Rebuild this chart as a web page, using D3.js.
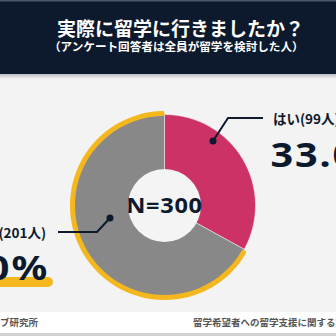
<!DOCTYPE html>
<html><head><meta charset="utf-8">
<script src="https://cdn.jsdelivr.net/npm/d3@7"></script>
<style>html,body{margin:0;padding:0;background:#f3f3f3;overflow:hidden}svg{display:block}</style>
</head><body>
<script>
const title = "実際に留学に行きましたか？";
const subtitle = "（アンケート回答者は全員が留学を検討した人）";
const categories = ["はい", "いいえ"];
const counts = [99, 201];
const percents = ["33.0%", "67.0%"];
const totalLabel = "N=300";
const footerLeft = "留学ラブ研究所";
const footerRight = "留学希望者への留学支援に関する調査";
const colors = ["#cd3266", "#888888"];

const W = 336, H = 336;
const font = "'Noto Sans CJK JP','Noto Sans',sans-serif";
const numFont = "'Noto Sans','Noto Sans CJK JP',sans-serif";
const svg = d3.select("body").append("svg").attr("width", W).attr("height", H);
const defs = svg.append("defs");
const g1 = defs.append("linearGradient").attr("id","sh").attr("x1",0).attr("y1",0).attr("x2",0).attr("y2",1);
g1.append("stop").attr("offset","0").attr("stop-color","#b9bec5");
g1.append("stop").attr("offset","1").attr("stop-color","#f3f3f3");

svg.append("rect").attr("width",W).attr("height",H).attr("fill","#f3f3f3");
// header
svg.append("rect").attr("x",0).attr("y",0).attr("width",W).attr("height",74).attr("fill","#0d1a2d");
svg.append("rect").attr("x",0).attr("y",0).attr("width",W).attr("height",1.5).attr("fill","#4a5668");
svg.append("rect").attr("x",0).attr("y",74).attr("width",W).attr("height",5).attr("fill","url(#sh)");
svg.append("text").attr("x",57).attr("y",35.5).attr("fill","#fff").attr("font-family",font)
  .attr("font-weight",700).attr("font-size",19).text(title);
svg.append("text").attr("x",49).attr("y",51).attr("fill","#fff").attr("font-family",font)
  .attr("font-weight",700).attr("font-size",11.6).text(subtitle);

// footer
svg.append("rect").attr("x",0).attr("y",312).attr("width",W).attr("height",21).attr("fill","#ffffff");
svg.append("rect").attr("x",0).attr("y",333).attr("width",W).attr("height",3).attr("fill","#d2d2d2");
svg.append("text").attr("x",38).attr("y",325.5).attr("text-anchor","end").attr("fill","#555")
  .attr("font-family",font).attr("font-weight",700).attr("font-size",9.5).text(footerLeft);
svg.append("text").attr("x",193).attr("y",325.5).attr("fill","#555")
  .attr("font-family",font).attr("font-weight",700).attr("font-size",9.5).text(footerRight);

// donut
const cx = 164.5, cy = 205.5, rOut = 91, rIn = 36.5;
const pie = d3.pie().sort(null).value(d => d)(counts);
const arc = d3.arc().innerRadius(0).outerRadius(rOut);
const chart = svg.append("g").attr("transform",`translate(${cx},${cy})`);
chart.selectAll("path.slice").data(pie).join("path").attr("class","slice")
  .attr("d", arc).attr("fill",(d,i)=>colors[i]).attr("stroke","#f0e8ec").attr("stroke-width",0.6);
// yellow highlight arc around "いいえ"
const hl = pie[1];
chart.append("path").attr("d", d3.arc().innerRadius(rOut-1.5).outerRadius(rOut+3.5).cornerRadius(2)
  ({startAngle: hl.startAngle + 0.01, endAngle: hl.endAngle}))
  .attr("fill","#f4b71e");
chart.append("circle").attr("r",rIn).attr("fill","#f4f4f4");
chart.append("g").attr("transform","translate(0,7) scale(1.15,1)")
  .append("text").attr("text-anchor","middle").attr("fill","#0d1a2d")
  .attr("font-family",numFont).attr("font-weight",700).attr("font-size",20.5)
  .attr("letter-spacing",0.6).text(totalLabel);

// leaders & labels
const navy = "#0d1a2d";
svg.append("path").attr("d", d3.line()([[213,141],[228,118],[263,118]])).attr("fill","none").attr("stroke",navy).attr("stroke-width",2);
svg.append("circle").attr("cx",213).attr("cy",141).attr("r",3.5).attr("fill",navy);
svg.append("path").attr("d", d3.line()([[110,218],[97,232],[58,232]])).attr("fill","none").attr("stroke",navy).attr("stroke-width",2);
svg.append("circle").attr("cx",110).attr("cy",218).attr("r",3.5).attr("fill",navy);

svg.append("text").attr("x",273).attr("y",124).attr("fill",navy).attr("font-family",font)
  .attr("font-weight",700).attr("font-size",13.5).text(`${categories[0]}(${counts[0]}人)`);
svg.append("g").attr("transform","translate(270.5,167) scale(1.15,1)")
  .append("text").attr("fill",navy).attr("font-family",numFont)
  .attr("font-weight",700).attr("font-size",34.5).attr("letter-spacing",1.6).text(percents[0]);

svg.append("rect").attr("x",-20).attr("y",277).attr("width",73).attr("height",10).attr("rx",5).attr("fill","#f4b71e");
svg.append("text").attr("x",46).attr("y",238).attr("text-anchor","end").attr("fill",navy).attr("font-family",font)
  .attr("font-weight",700).attr("font-size",13.5).text(`${categories[1]}(${counts[1]}人)`);
svg.append("g").attr("transform","translate(49,280) scale(1.15,1)")
  .append("text").attr("text-anchor","end").attr("fill",navy).attr("font-family",numFont)
  .attr("font-weight",700).attr("font-size",34.5).attr("letter-spacing",1.6).text(percents[1]);
</script>
</body></html>
